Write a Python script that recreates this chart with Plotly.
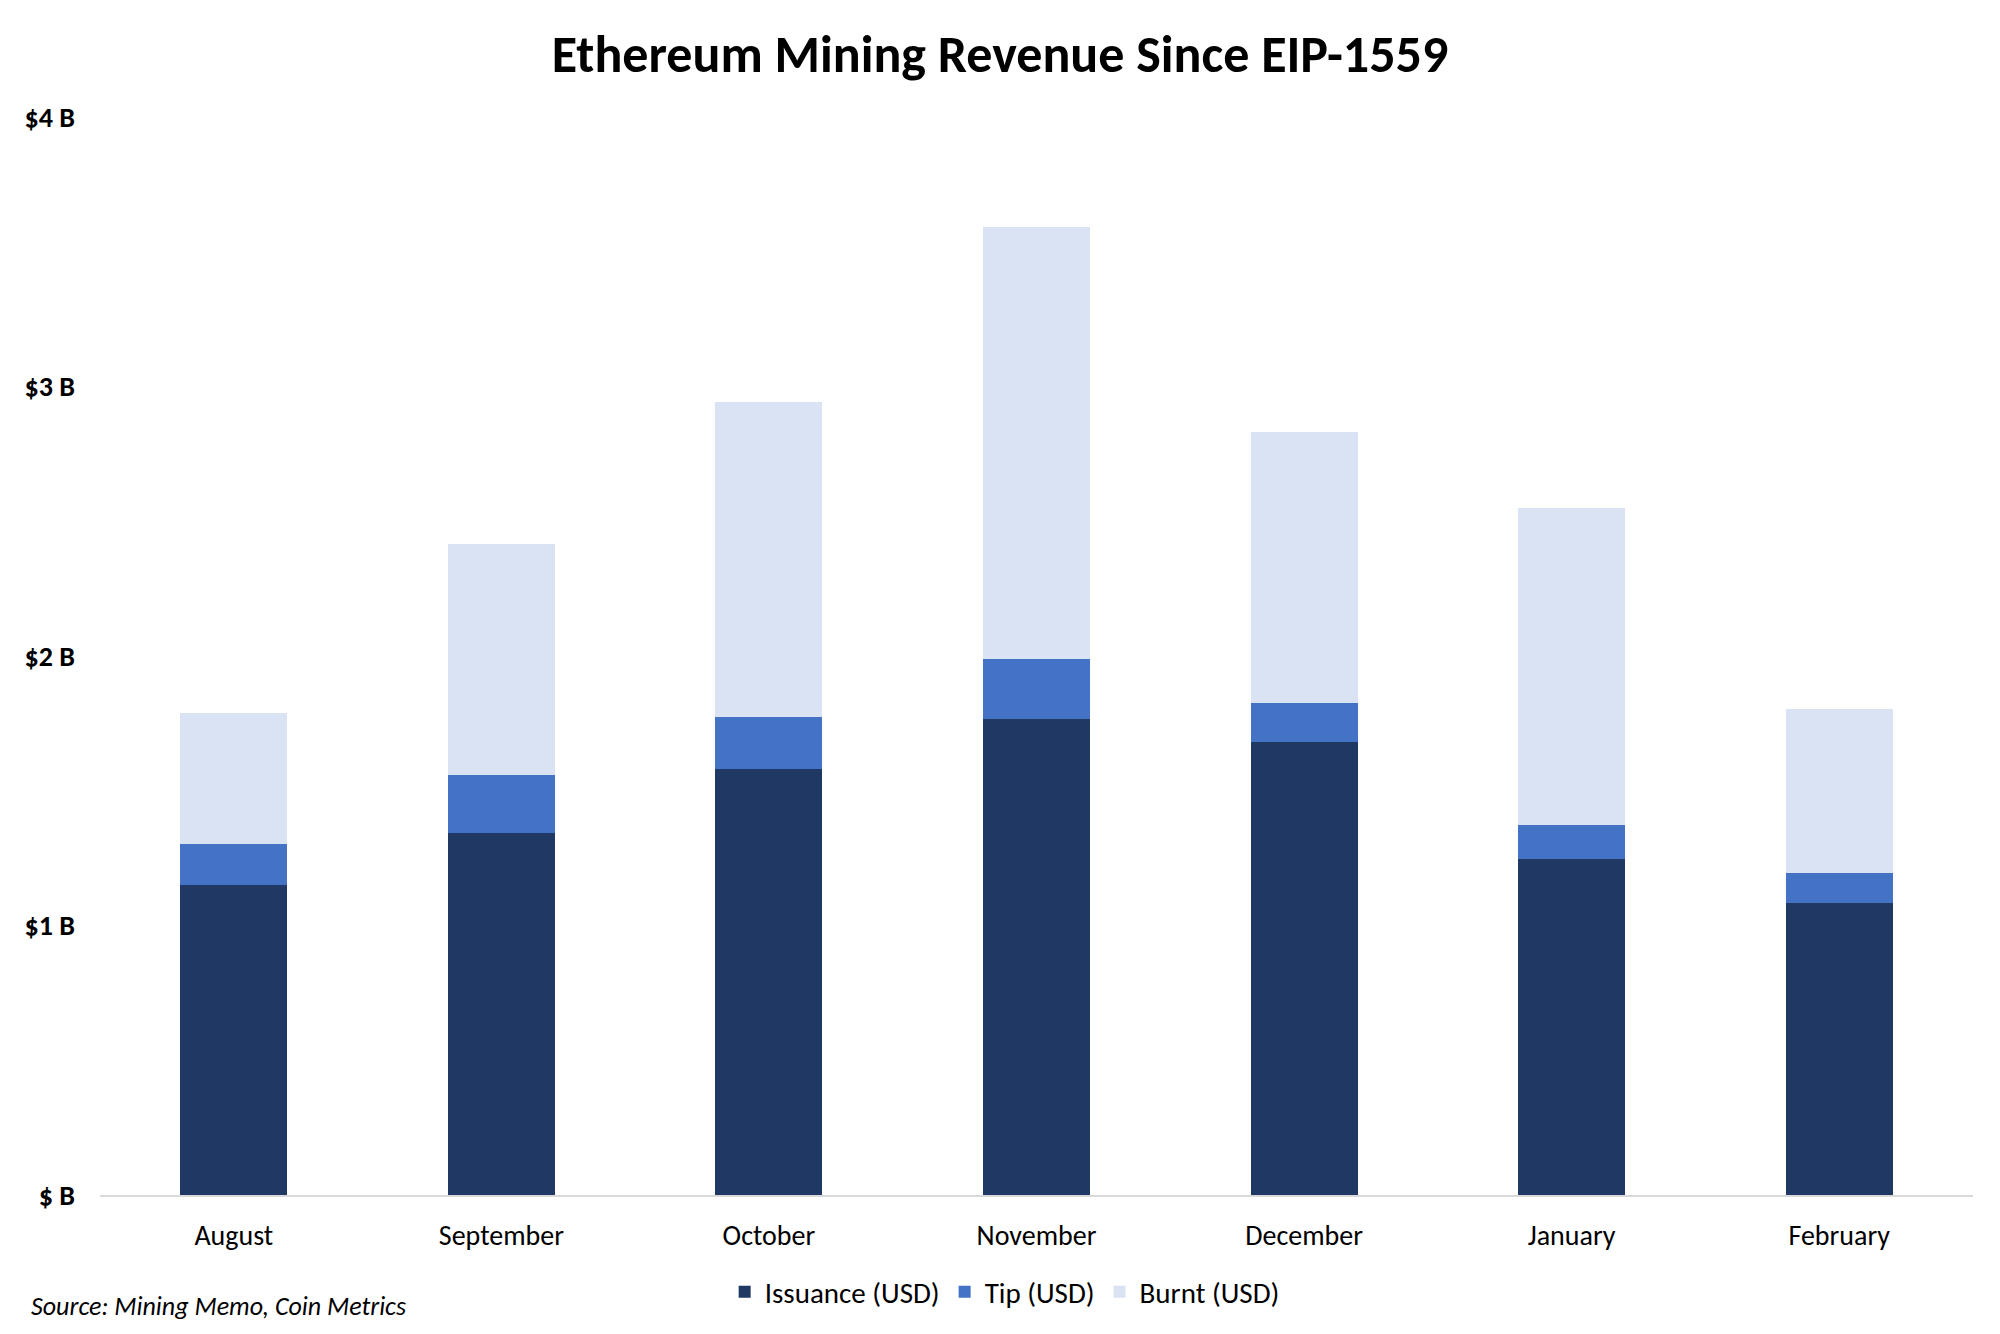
import plotly.graph_objects as go

months = ["August", "September", "October", "November", "December", "January", "February"]
issuance = [1.150, 1.344, 1.581, 1.765, 1.680, 1.245, 1.084]
tip = [0.151, 0.213, 0.194, 0.223, 0.147, 0.127, 0.109]
burnt = [0.488, 0.857, 1.169, 1.604, 1.003, 1.179, 0.610]
tick_vals = [0, 1, 2, 3, 4]
tick_text = ["$ B", "$1 B", "$2 B", "$3 B", "$4 B"]

FONT = "Carlito, Lato, sans-serif"

fig = go.Figure()
for name, vals, col in [("Issuance (USD)", issuance, "#1F3864"),
                        ("Tip (USD)", tip, "#4472C4"),
                        ("Burnt (USD)", burnt, "#DAE3F3")]:
    fig.add_trace(go.Bar(x=months, y=vals, name=name, marker=dict(color=col, line=dict(width=0))))

fig.update_layout(
    barmode="stack",
    bargap=0.6,
    width=2000, height=1334,
    paper_bgcolor="white", plot_bgcolor="white",
    margin=dict(l=92, r=35, t=109, b=147),
    font=dict(family=FONT, size=26, color="black"),
    title=dict(text="<b>Ethereum Mining Revenue Since EIP-1559</b>", x=0.496, xanchor="center",
               y=1 - 46/1334, yref="container", yanchor="middle",
               font=dict(family=FONT, size=52, color="black")),
    xaxis=dict(showgrid=False, showline=True, linecolor="#D9D9D9", linewidth=2,
               ticks="", ticklabelstandoff=14, tickfont=dict(size=28)),
    yaxis=dict(range=[0, 4], showgrid=False, zeroline=False, showline=False,
               tickvals=tick_vals, ticktext=tick_text, ticklabelstandoff=24,
               tickfont=dict(size=28, family=FONT, weight="bold")),
    legend=dict(orientation="h", x=0.483, xanchor="center", y=-0.09, yanchor="middle",
                font=dict(size=29), traceorder="normal", itemwidth=30),
    showlegend=True,
)
fig.add_annotation(text="<i>Source: Mining Memo, Coin Metrics</i>", xref="paper", yref="paper",
                   x=-0.038, y=-0.103, xanchor="left", yanchor="middle", showarrow=False,
                   font=dict(size=26, family=FONT))

fig.write_html("out.html")
